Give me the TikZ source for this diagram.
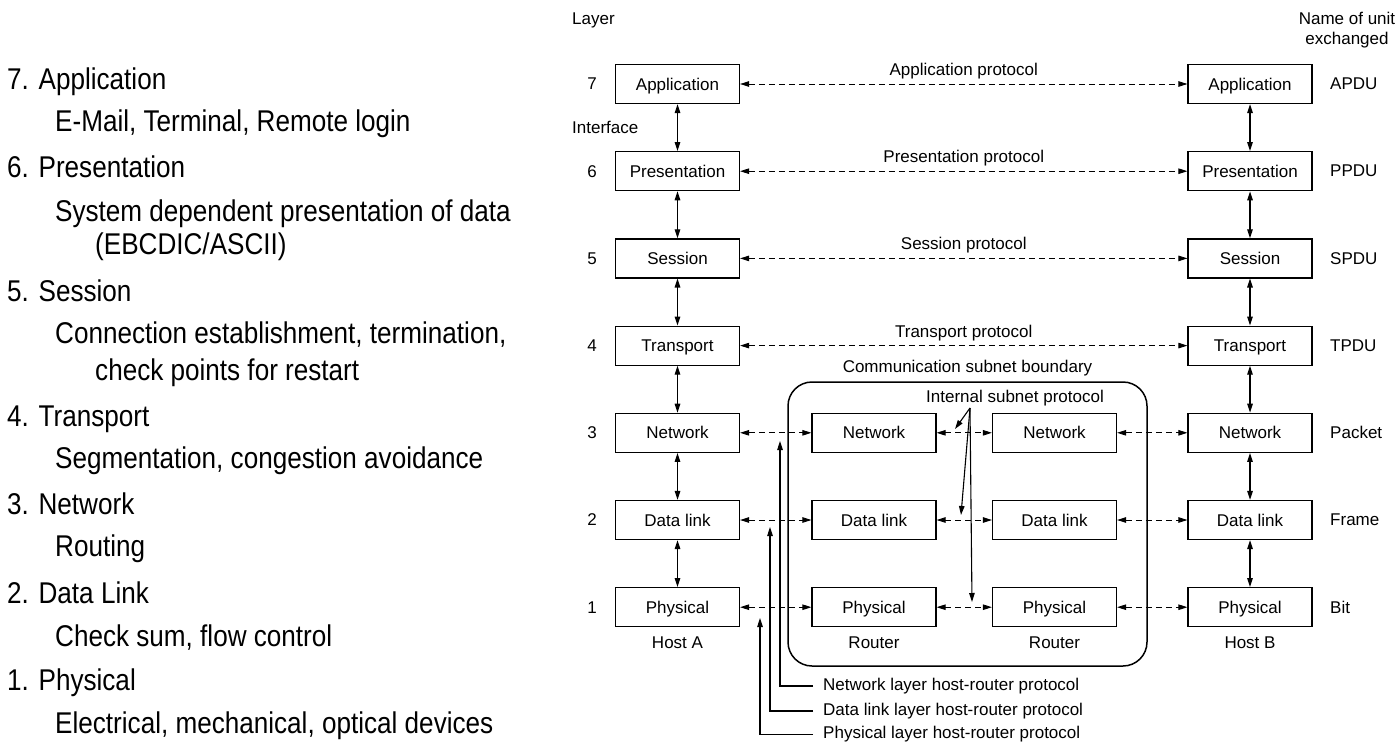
\documentclass[tikz,border=0pt]{standalone}
\usepackage{fontspec}
\setmainfont{Liberation Sans}
\newfontfamily\slidefont[FakeStretch=0.87]{Liberation Sans}
\usetikzlibrary{arrows.meta,positioning}
\newcommand\diagfont{\fontsize{17}{20}\selectfont}
\tikzset{
  >={Triangle[length=9pt,width=5.5pt]},
  lay/.style={draw,line width=1.2pt,minimum width=124pt,minimum height=39pt,inner sep=0pt,
    text height=12.3pt,text depth=0pt,font=\diagfont},
  peer/.style={<->,line width=0.9pt,dash pattern=on 6pt off 4pt},
  iface/.style={<->,line width=1.3pt},
  tag/.style={font=\diagfont,inner sep=0pt},
  callout/.style={->,line width=1.1pt},
  osi/.style={font=\slidefont\fontsize{30}{36}\selectfont,anchor=base west,inner sep=0pt},
}

\begin{document}
\begin{tikzpicture}[x=1pt,y=-1pt]
  \useasboundingbox (0,0) rectangle (1395,744);
  % layer list on the left
  \foreach \x/\y/\txt [count=\i] in {7/89.3/{7. Application},55/131.7/{E-Mail, Terminal, Remote login},
      7/177.7/{6. Presentation},55/221/{System dependent presentation of data},95/254.5/{(EBCDIC/ASCII)},
      7/301.7/{5. Session},55/343.3/{Connection establishment, termination,},95/380.7/{check points for restart},
      7/426/{4. Transport},55/468.3/{Segmentation, congestion avoidance},
      7/514/{3. Network},55/556.7/{Routing},
      7/603.3/{2. Data Link},55/646/{Check sum, flow control},
      7/690.7/{1. Physical},55/733.3/{Electrical, mechanical, optical devices}}
    \node[osi] (osi\i) at (\x,\y) {\txt};

  % hosts A and B
  \node[tag,anchor=base west] (layerhd) at (572,24) {Layer};
  \node[tag,align=center] (unithd) at (1347,30.6) {Name of unit\\exchanged};
  \foreach \n/\lname/\unit in {7/Application/APDU,6/Presentation/PPDU,5/Session/SPDU,4/Transport/TPDU,
      3/Network/Packet,2/Data link/Frame,1/Physical/Bit}{
    \pgfmathsetmacro\y{84+87.2*(7-\n)}
    \node[lay] (hA\n) at (677.5,\y) {\lname};
    \node[lay] (hB\n) at (1250,\y) {\lname};
    \node[tag] (num\n) at (592,\y) {\n};
    \node[tag,anchor=west] (unit\n) at (1330,\y) {\unit};
  }
  \foreach \n [evaluate=\n as \m using int(\n-1)] in {7,...,2}{
    \draw[iface] (hA\n) -- (hA\m);
    \draw[iface] (hB\n) -- (hB\m);
  }
  \node[tag,anchor=west] (iface) at (572,127) {Interface};
  \foreach \n/\proto in {7/Application,6/Presentation,5/Session,4/Transport}
    \draw[peer] (hA\n) -- node[tag,above=4.5pt] (proto\n) {\proto\ protocol} (hB\n);

  % communication subnet with two routers
  \node[draw,line width=1.5pt,rounded corners=24pt,minimum width=359pt,minimum height=284pt,inner sep=0pt] (subnet) at (967.5,524) {};
  \node[tag,above=5pt of subnet] (subcap) {Communication subnet boundary};
  \foreach \n/\lname in {3/Network,2/Data link,1/Physical}{
    \pgfmathsetmacro\y{84+87.2*(7-\n)}
    \node[lay] (rA\n) at (874,\y) {\lname};
    \node[lay] (rB\n) at (1054.5,\y) {\lname};
    \draw[peer] (hA\n) -- (rA\n);
    \draw[peer] (rA\n) -- (rB\n);
    \draw[peer] (rB\n) -- (hB\n);
  }
  \node[tag,below=9pt of hA1] (hostA) {Host A};
  \node[tag,below=9pt of rA1] (routerA) {Router};
  \node[tag,below=9pt of rB1] (routerB) {Router};
  \node[tag,below=9pt of hB1] (hostB) {Host B};

  % internal subnet protocol
  \node[tag,anchor=base] (isp) at (1015,402.7) {Internal subnet protocol};
  \coordinate (fan) at (970,408);
  \coordinate (isp3) at (955,429);
  \coordinate (isp2) at (961,515);
  \coordinate (isp1) at (972,602);
  \foreach \n in {3,2,1} \draw[callout] (fan) -- (isp\n);

  % host-router protocols
  \coordinate (tip3) at (780,441);
  \coordinate (tip2) at (770,527);
  \coordinate (tip1) at (760,618);
  \node[tag,anchor=west,inner xsep=10pt] (hr3) at (813,686) {Network layer host-router protocol};
  \node[tag,anchor=west,inner xsep=10pt] (hr2) at (813,711) {Data link layer host-router protocol};
  \node[tag,anchor=west,inner xsep=10pt] (hr1) at (813,734.5) {Physical layer host-router protocol};
  \foreach \n in {3,2,1} \draw[callout] (hr\n.west) -| (tip\n);
\end{tikzpicture}
\end{document}
